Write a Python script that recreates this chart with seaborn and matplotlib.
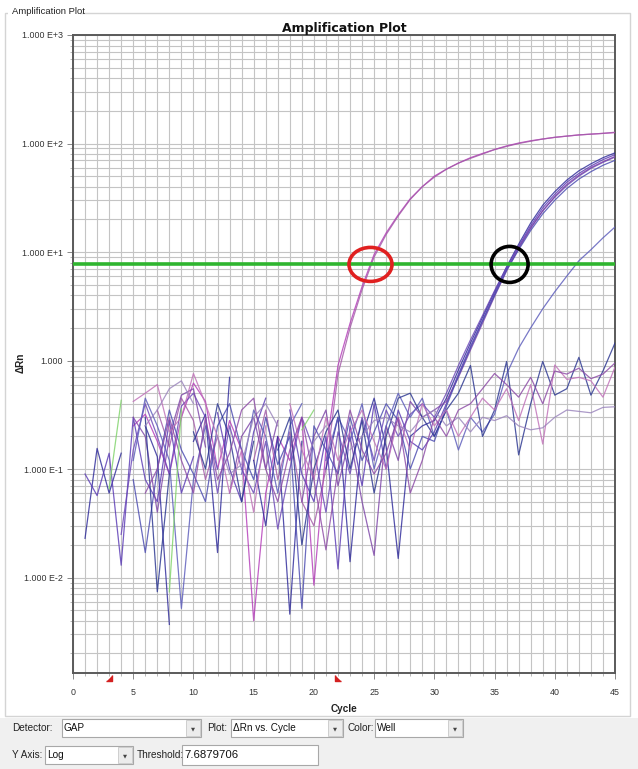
import numpy as np
import pandas as pd
import matplotlib
matplotlib.use("Agg")
import matplotlib.pyplot as plt
from matplotlib.patches import Rectangle, Ellipse
from matplotlib.ticker import FixedLocator, LogLocator, NullFormatter
import seaborn as sns

nan = np.nan

# ---------------------------------------------------------------- data
cycles = list(range(1, 46))

# delta Rn per cycle (1..45); nan = no positive value for that cycle
well_A1 = [nan, nan, nan, nan, 0.25, 0.32, 0.18, 0.09, 0.30, 0.62,
           0.42, 0.10, 0.28, 0.15, 0.004, 0.06, 0.20, 0.12, 0.30, 0.0085,
           0.15, 0.90, 2.2, 4.8, 9.5, 15.0, 22.0, 31.0, 40.0, 50.0,
           58.0, 66.0, 74.0, 81.0, 88.0, 95.0, 101.0, 106.0, 110.0, 114.0,
           117.0, 120.0, 122.0, 124.0, 126.0]
well_A2 = [nan, nan, nan, nan, 0.22, nan, 0.35, 0.16, 0.45, 0.28,
           0.08, 0.20, nan, nan, 0.12, 0.35, 0.08, 0.22, 0.05, 0.03,
           0.10, 0.75, 2.0, 4.5, 9.0, 14.5, 21.5, 30.5, 40.0, 49.0,
           58.0, 66.0, 73.0, 80.0, 88.0, 94.0, 100.0, 105.0, 110.0, 114.0,
           117.0, 120.0, 122.0, 124.0, 127.0]
well_B1 = [0.023, 0.155, 0.06, 0.14, nan, 0.25, 0.13, 0.0037, nan, 0.18,
           0.32, 0.017, 0.70, nan, 0.12, 0.03, 0.20, 0.0046, 0.18, nan,
           0.10, 0.30, 0.014, 0.20, 0.45, 0.16, 0.015, 0.20, 0.25, 0.28,
           0.45, 0.82, 1.45, 2.5, 4.3, 7.3, 11.8, 18.5, 27.0, 36.0,
           46.0, 56.0, 65.0, 74.0, 82.0]
well_B2 = [0.09, 0.057, 0.14, 0.013, 0.30, 0.08, 0.05, 0.28, 0.06, 0.13,
           nan, 0.33, 0.10, 0.05, 0.22, 0.45, nan, 0.35, 0.09, 0.05,
           0.20, 0.012, 0.25, 0.07, 0.40, 0.10, 0.35, 0.18, 0.15, 0.22,
           0.40, 0.75, 1.35, 2.35, 4.1, 7.0, 11.3, 17.5, 25.5, 34.0,
           44.0, 53.0, 62.0, 71.0, 79.0]
well_B3 = [nan, nan, nan, 0.025, 0.15, 0.40, 0.20, 0.09, 0.38, 0.50,
           0.30, 0.06, 0.25, 0.10, 0.06, 0.18, 0.028, 0.10, 0.30, 0.15,
           0.04, 0.22, 0.09, 0.30, 0.12, 0.35, 0.20, 0.32, 0.40, 0.30,
           0.50, 0.90, 1.55, 2.6, 4.4, 7.2, 11.0, 16.8, 24.0, 32.0,
           41.0, 50.0, 59.0, 67.0, 75.0]
well_B4 = [nan, nan, nan, nan, 0.30, 0.20, 0.04, 0.20, 0.48, 0.55,
           0.16, nan, 0.06, 0.20, 0.30, 0.10, 0.28, nan, 0.05, 0.20,
           0.35, 0.07, 0.20, 0.05, 0.016, 0.25, 0.12, 0.42, 0.30, 0.35,
           0.42, 0.70, 1.25, 2.2, 3.9, 6.7, 10.8, 16.5, 24.0, 32.5,
           42.0, 51.0, 60.0, 68.0, 76.0]
well_B5 = [nan, nan, nan, nan, 0.08, 0.017, 0.10, 0.35, 0.15, 0.09,
           0.05, 0.25, 0.40, 0.15, 0.08, 0.30, 0.11, 0.20, 0.0052, 0.25,
           0.15, 0.09, 0.30, 0.12, 0.22, 0.40, 0.28, 0.10, 0.20, 0.18,
           0.38, 0.72, 1.30, 2.3, 4.0, 6.8, 10.5, 15.8, 22.5, 30.0,
           38.5, 47.0, 55.0, 63.0, 70.0]
well_C = [nan, nan, nan, nan, 0.12, 0.45, 0.25, 0.12, 0.0052, 0.08,
          0.25, 0.10, nan, 0.09, 0.35, 0.20, 0.06, 0.25, 0.40, nan,
          0.12, 0.30, 0.18, 0.40, 0.10, 0.25, 0.50, 0.30, 0.45, 0.20,
          0.35, 0.15, 0.30, 0.22, 0.32, 0.75, 1.3, 2.0, 3.0, 4.3,
          6.0, 8.3, 10.5, 13.5, 17.0]
well_N1 = [nan, nan, nan, nan, nan, 0.30, 0.0074, 0.09, nan, 0.22,
           0.10, 0.40, 0.20, 0.05, 0.18, nan, 0.15, 0.30, 0.02, 0.10,
           0.22, 0.35, 0.10, 0.28, 0.06, 0.20, 0.45, 0.50, 0.30, 0.20,
           0.35, 0.50, 0.90, 0.20, 0.35, 0.98, 0.135, 0.40, 0.98, 0.48,
           0.55, 1.07, 0.48, 0.80, 1.45]
well_N2 = [nan, nan, nan, nan, 0.42, 0.50, 0.60, 0.22, 0.30, 0.76,
           0.40, 0.20, 0.06, 0.15, 0.04, 0.25, nan, 0.40, 0.15, 0.08,
           0.30, 0.12, 0.22, 0.35, 0.18, 0.10, 0.30, 0.15, 0.40, 0.25,
           0.35, 0.20, 0.30, 0.45, 0.35, 0.55, 0.28, 0.60, 0.17, 0.91,
           0.67, 0.70, 0.65, 0.46, 0.87]
well_N3 = [nan, nan, nan, nan, nan, 0.25, 0.35, 0.55, 0.65, 0.40,
           nan, 0.20, 0.09, 0.11, 0.30, 0.40, 0.25, nan, 0.10, 0.18,
           0.25, nan, 0.15, 0.20, 0.28, 0.30, 0.25, 0.22, 0.30, 0.35,
           0.25, 0.30, 0.22, 0.30, 0.28, 0.31, 0.25, 0.23, 0.24, 0.30,
           0.35, 0.34, 0.33, 0.37, 0.375]
well_N4 = [nan, nan, nan, nan, nan, 0.06, 0.10, 0.30, 0.12, 0.06,
           0.30, 0.08, 0.14, 0.35, 0.45, 0.10, 0.05, 0.15, 0.30, 0.08,
           0.018, 0.10, 0.35, 0.15, 0.09, 0.14, 0.30, 0.06, 0.12, 0.30,
           0.20, 0.35, 0.40, 0.55, 0.76, 0.60, 0.46, 0.70, 0.40, 0.80,
           0.75, 0.85, 0.68, 0.75, 0.95]
well_G = [nan, nan, 0.066, 0.43, nan, nan, nan, 0.0074, 0.36, nan,
          nan, nan, nan, nan, nan, nan, nan, nan, 0.23, 0.35,
          nan, nan, nan, nan, nan, nan, nan, nan, nan, nan,
          nan, nan, nan, nan, nan, nan, nan, nan, nan, nan,
          nan, nan, nan, nan, nan]

wells = {
    "A1": well_A1, "A2": well_A2,
    "B1": well_B1, "B2": well_B2, "B3": well_B3, "B4": well_B4, "B5": well_B5,
    "C1": well_C,
    "N1": well_N1, "N2": well_N2, "N3": well_N3, "N4": well_N4,
    "G1": well_G,
}
well_colors = {
    "A1": "#b53cba", "A2": "#a35aa8",
    "B1": "#2e2a9a", "B2": "#5a3ab5", "B3": "#6b47b8", "B4": "#7d45a8", "B5": "#4a4ab0",
    "C1": "#5b5bbb",
    "N1": "#2a3590", "N2": "#c070b8", "N3": "#9a84bc", "N4": "#8c4aa6",
    "G1": "#7fd36a",
}

threshold = 7.6879706
x_ticks = [0, 5, 10, 15, 20, 25, 30, 35, 40, 45]
y_ticks = [1e-2, 1e-1, 1.0, 1e1, 1e2, 1e3]
y_tick_labels = ["1.000 E-2", "1.000 E-1", "1.000", "1.000 E+1", "1.000 E+2", "1.000 E+3"]
baseline_marks = [3, 22]

# long-form table; each unbroken run of values gets its own unit id
rows = []
for name, vals in wells.items():
    seg = 0
    for c, v in zip(cycles, vals):
        if np.isnan(v):
            seg += 1
            continue
        rows.append({"Cycle": c, "dRn": v, "well": name, "unit": f"{name}-{seg}"})
df = pd.DataFrame(rows)
df = df[df.groupby("unit")["unit"].transform("size") > 1]

# ---------------------------------------------------------------- figure
W, H = 638, 769
fig = plt.figure(figsize=(W / 100, H / 100), dpi=100)
fig.patch.set_facecolor("white")

def fx(px):
    return px / W

def fy(py):
    return 1 - py / H

UI_FONT = ["Liberation Sans", "DejaVu Sans"]

# outer group box
fig.patches.append(Rectangle((fx(5), fy(716)), fx(630) - fx(5), fy(13) - fy(716),
                             transform=fig.transFigure, fill=False,
                             edgecolor="#d4d4d4", lw=1.0))
fig.patches.append(Rectangle((fx(8), fy(18)), fx(80) - fx(8), fy(5) - fy(18),
                             transform=fig.transFigure, facecolor="white",
                             edgecolor="none"))
fig.text(fx(12), fy(11), "Amplification Plot", fontsize=6.8, family=UI_FONT,
         color="#222222", va="center", ha="left")

# control strip
fig.patches.append(Rectangle((0, 0), 1, fy(718), transform=fig.transFigure,
                             facecolor="#f0f0f0", edgecolor="none"))

ax_l, ax_r, ax_t, ax_b = 73, 615, 35, 673
ax = fig.add_axes([fx(ax_l), fy(ax_b), fx(ax_r) - fx(ax_l), fy(ax_t) - fy(ax_b)])
ax.set_facecolor("white")

sns.lineplot(data=df, x="Cycle", y="dRn", hue="well", units="unit",
             estimator=None, palette=well_colors, legend=False, sort=False,
             lw=0.9, alpha=0.82, ax=ax, zorder=3)

ax.set_yscale("log")
ax.set_xlim(0, 45)
ymin, ymax = 0.00132, 1000
ax.set_ylim(ymin, ymax)

# grid: every cycle, every log sub-division
ax.xaxis.set_major_locator(FixedLocator(x_ticks))
ax.xaxis.set_minor_locator(FixedLocator(list(range(0, 46))))
ax.yaxis.set_major_locator(FixedLocator(y_ticks))
ax.yaxis.set_minor_locator(LogLocator(base=10, subs=np.arange(2, 10), numticks=20))
ax.yaxis.set_minor_formatter(NullFormatter())
ax.set_xticklabels([str(t) for t in x_ticks])
ax.set_yticklabels(y_tick_labels)
ax.grid(True, which="both", axis="both", color="#c4c4c4", lw=0.8, zorder=0)
ax.set_axisbelow(True)

ax.tick_params(axis="both", which="major", labelsize=6.4, labelcolor="#333333",
               color="#888888", length=4, width=0.7)
ax.tick_params(axis="both", which="minor", color="#aaaaaa", length=2, width=0.6)
ax.tick_params(axis="x", which="major", pad=7)
ax.tick_params(axis="y", which="major", pad=3)
for lab in ax.get_xticklabels() + ax.get_yticklabels():
    lab.set_family(UI_FONT)

for side, sp in ax.spines.items():
    sp.set_color("#5a5a5a")
    sp.set_linewidth(1.4)

ax.set_xlabel("Cycle", fontsize=7.2, fontweight="bold", family=UI_FONT,
              labelpad=5, color="#222222")
ax.set_ylabel("")
fig.text(fx(21), fy(363), "ΔRn", rotation=90, fontsize=7.2, fontweight="bold",
         family=UI_FONT, ha="center", va="center", color="#222222")
ax.set_title("Amplification Plot", fontsize=9.0, fontweight="bold",
             family=["DejaVu Sans"], pad=1.5, color="#111111")

# threshold line
ax.axhline(threshold, color="#2fb52f", lw=2.6, zorder=4)

# baseline start / end markers below the axis
for c, mk in zip(baseline_marks, [[(-1, -1), (1, -1), (1, 1)], [(-1, 1), (-1, -1), (1, -1)]]):
    ax.plot([c], [-0.008], marker=mk, ms=5, color="#d42020", mec="#d42020",
            transform=ax.get_xaxis_transform(), clip_on=False, zorder=5)

# call-out rings at the threshold crossings
ax_w_px, ax_h_px = ax_r - ax_l, ax_b - ax_t
def ring(cycle, value, w_px, h_px, color):
    xf = cycle / 45
    yf = (np.log10(value) - np.log10(ymin)) / (np.log10(ymax) - np.log10(ymin))
    e = Ellipse((xf, yf), w_px / ax_w_px, h_px / ax_h_px, transform=ax.transAxes,
                fill=False, edgecolor=color, lw=2.6, zorder=6)
    ax.add_patch(e)

ring(24.7, threshold, 43, 34, "#e02020")
ring(36.25, threshold, 37, 36, "#000000")

# ---------------------------------------------------------------- controls
def label(px, py, s):
    fig.text(fx(px), fy(py), s, fontsize=7.2, family=UI_FONT, color="#222222",
             ha="left", va="center")

def combo(x0, x1, y0, y1, s, arrow=True, fs=7.2):
    fig.patches.append(Rectangle((fx(x0), fy(y1)), fx(x1) - fx(x0), fy(y0) - fy(y1),
                                 transform=fig.transFigure, facecolor="white",
                                 edgecolor="#a8a8a8", lw=0.8))
    if arrow:
        fig.patches.append(Rectangle((fx(x1 - 15), fy(y1 - 1)), fx(14), fy(y0 + 1) - fy(y1 - 1),
                                     transform=fig.transFigure, facecolor="#ececec",
                                     edgecolor="#c8c8c8", lw=0.6))
        fig.text(fx(x1 - 8), fy((y0 + y1) / 2 + 0.5), "▼", fontsize=3.8,
                 family=["DejaVu Sans"], color="#444444", ha="center", va="center")
    fig.text(fx(x0 + 2), fy((y0 + y1) / 2), s, fontsize=fs, family=UI_FONT,
             color="#111111", ha="left", va="center")

label(12, 728, "Detector:")
combo(62, 201, 719, 737, "GAP")
label(207, 728, "Plot:")
combo(231, 343, 719, 737, "ΔRn vs. Cycle")
label(347, 728, "Color:")
combo(375, 463, 719, 737, "Well")

label(12, 755, "Y Axis:")
combo(45, 133, 746, 764, "Log")
label(137, 755, "Threshold:")
combo(182, 318, 745, 765, "7.6879706", arrow=False, fs=8.2)

fig.savefig("out.png", dpi=100)
